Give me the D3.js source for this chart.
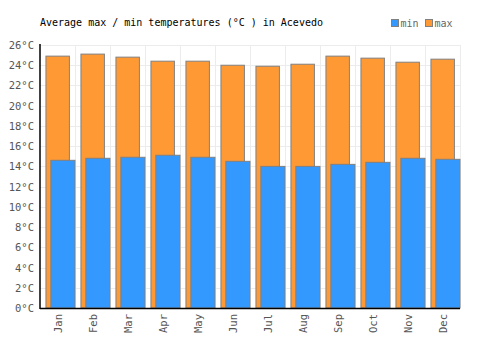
<!DOCTYPE html>
<html><head><meta charset="utf-8">
<script src="https://cdn.jsdelivr.net/npm/d3@7"></script>
<style>body{margin:0;background:#fff}svg{display:block}</style>
</head><body>
<script>
const months = ["Jan","Feb","Mar","Apr","May","Jun","Jul","Aug","Sep","Oct","Nov","Dec"];
const maxTemps = [24.9,25.1,24.8,24.4,24.4,24.0,23.9,24.1,24.9,24.7,24.3,24.6];
const minTemps = [14.6,14.8,14.9,15.1,14.9,14.5,14.0,14.0,14.2,14.4,14.8,14.7];
const yTicks = [0,2,4,6,8,10,12,14,16,18,20,22,24,26];
const title = "Average max / min temperatures (°C ) in Acevedo";

const W=500,H=350, L=40,R=460,T=45,B=308;
const font = "'DejaVu Sans Mono', monospace";
const svg = d3.select("body").append("svg").attr("width",W).attr("height",H);
const x = d3.scaleBand().domain(months).range([L,R]).padding(0);
const y = d3.scaleLinear().domain([0,26]).range([B,T]);
const bw = x.bandwidth();

// grid
const g = svg.append("g");
g.selectAll(".hg").data(yTicks).join("line")
  .attr("x1",L).attr("x2",R).attr("y1",d=>Math.round(y(d))+0.5).attr("y2",d=>Math.round(y(d))+0.5)
  .attr("stroke","#ececec").attr("stroke-width",1);
g.selectAll(".vg").data(months).join("line")
  .attr("x1",d=>Math.round(x(d)+bw)+0.5).attr("x2",d=>Math.round(x(d)+bw)+0.5)
  .attr("y1",T).attr("y2",B).attr("stroke","#ececec").attr("stroke-width",1);

// max bars
svg.selectAll(".mx").data(maxTemps).join("rect")
  .attr("x",(d,i)=>x(months[i])+bw*0.17)
  .attr("width",bw*0.67)
  .attr("y",d=>y(d)).attr("height",d=>B-y(d))
  .attr("fill","#ff9933").attr("stroke","#808080").attr("stroke-width",1);
// min bars
svg.selectAll(".mn").data(minTemps).join("rect")
  .attr("x",(d,i)=>x(months[i])+bw*0.31)
  .attr("width",bw*0.69)
  .attr("y",d=>y(d)).attr("height",d=>B-y(d))
  .attr("fill","#3399ff").attr("stroke","#808080").attr("stroke-width",1);

// axes lines
svg.append("line").attr("x1",L).attr("x2",L).attr("y1",T-1).attr("y2",B+1).attr("stroke","#000").attr("stroke-width",1.5);
svg.append("line").attr("x1",L).attr("x2",R).attr("y1",B+0.5).attr("y2",B+0.5).attr("stroke","#000").attr("stroke-width",1.5);

// y labels
svg.selectAll(".yl").data(yTicks).join("text")
  .attr("x",34).attr("y",d=>y(d)+4)
  .attr("text-anchor","end").attr("font-family",font).attr("font-size",10.5)
  .attr("fill","#555").text(d=>d+"°C");

// x labels
svg.selectAll(".xl").data(months).join("text")
  .attr("transform",d=>`translate(${x(d)+bw/2+4},314) rotate(-90)`)
  .attr("text-anchor","end").attr("font-family",font).attr("font-size",10.5)
  .attr("fill","#555").text(d=>d);

// title
svg.append("text").attr("x",40).attr("y",26).attr("font-family",font).attr("font-size",10)
  .attr("fill","#000").text(title);

// legend
const leg = [{k:"min",c:"#3399ff",x:391},{k:"max",c:"#ff9933",x:425}];
const lg = svg.selectAll(".lg").data(leg).join("g");
lg.append("rect").attr("x",d=>d.x+0.5).attr("y",19.5).attr("width",7).attr("height",7)
  .attr("fill",d=>d.c).attr("stroke","#808080").attr("stroke-width",1);
lg.append("text").attr("x",d=>d.x+9.5).attr("y",27).attr("font-family",font).attr("font-size",10)
  .attr("fill","#666").text(d=>d.k);
</script>
</body></html>
